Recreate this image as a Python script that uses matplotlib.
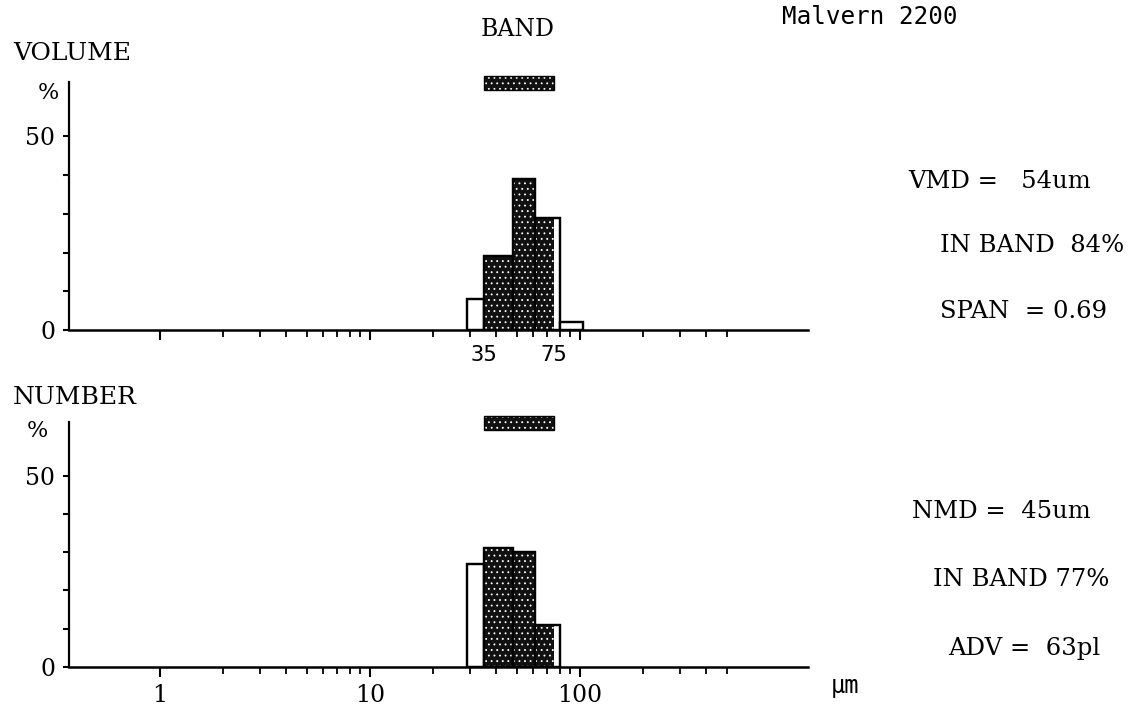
import matplotlib
matplotlib.use("Agg")
import matplotlib.pyplot as plt
from matplotlib.ticker import FixedLocator, NullFormatter

bin_edges = [29, 35, 48, 61, 80, 103]
volume_pct = [8, 19, 39, 29, 2]
number_pct = [27, 31, 30, 11]
band = (35, 75)

volume_stats = ["VMD =   54um", "IN BAND  84%", "SPAN  = 0.69"]
number_stats = ["NMD =  45um", "IN BAND 77%", "ADV =  63pl"]

serif = "DejaVu Serif"
plotter = "DejaVu Sans Mono"
W, H = 1136, 708


def fx(px):
    return px / W


def fy(py):
    return 1 - py / H


plt.rcParams["hatch.linewidth"] = 0.6
fig = plt.figure(figsize=(W / 100, H / 100), dpi=100)

ax_v = fig.add_axes([fx(69), fy(330), fx(808) - fx(69), (330 - 82) / H])
ax_n = fig.add_axes([fx(69), fy(667), fx(808) - fx(69), (667 - 422) / H])

# log minor ticks, the print-out only has them from 2 to 500
minor = [m * 10.0 ** e for e in (0, 1, 2) for m in range(2, 10)]
minor = [t for t in minor if t < 510]


def draw_panel(ax, pct):
    lefts = bin_edges[:-1]
    rights = bin_edges[1:]
    for lo, hi, h in zip(lefts, rights, pct):
        ax.bar(lo, h, width=hi - lo, align="edge", color="white",
               edgecolor="black", lw=1.6)
        dlo, dhi = max(lo, band[0]), min(hi, band[1])
        if dhi > dlo:
            ax.bar(dlo, h, width=dhi - dlo, align="edge", color="#111111",
                   edgecolor="white", hatch="...", lw=0)
        ax.bar(lo, h, width=hi - lo, align="edge", fill=False,
               edgecolor="black", lw=1.6)
    # band marker above the plot
    ax.bar(band[0], 3.6, bottom=62, width=band[1] - band[0], align="edge",
           color="#111111", edgecolor="white", hatch="...", lw=0, clip_on=False)
    ax.bar(band[0], 3.6, bottom=62, width=band[1] - band[0], align="edge",
           fill=False, edgecolor="black", lw=1.0, clip_on=False)

    ax.set_xscale("log")
    ax.set_xlim(0.369, 1218)
    ax.set_ylim(0, 64)
    for s in ("top", "right"):
        ax.spines[s].set_visible(False)
    ax.spines["left"].set_linewidth(1.6)
    ax.spines["bottom"].set_linewidth(1.8)

    ax.set_yticks([0, 10, 20, 30, 40, 50])
    ax.set_yticklabels(["0", "", "", "", "", "50"], fontfamily=serif, fontsize=17)
    ax.tick_params(axis="y", direction="out", length=4, width=1.5, pad=6)

    ax.xaxis.set_major_locator(FixedLocator([1, 10, 100]))
    ax.xaxis.set_minor_locator(FixedLocator(minor))
    ax.xaxis.set_minor_formatter(NullFormatter())
    ax.tick_params(axis="x", which="major", direction="out", length=7, width=1.5, pad=5)
    ax.tick_params(axis="x", which="minor", direction="out", length=5, width=1.3)


draw_panel(ax_v, volume_pct)
draw_panel(ax_n, number_pct)

# upper panel: only the band limits are labelled
ax_v.set_xticklabels(["", "", ""])
for b in band:
    ax_v.text(b, -0.1, str(b), transform=ax_v.get_xaxis_transform(),
              ha="center", va="center", fontfamily=plotter, fontsize=16)
ax_n.set_xticklabels(["1", "10", "100"], fontfamily=serif, fontsize=17)

fig.text(fx(845), fy(686), "\u03bcm", ha="center", va="center",
         fontfamily=plotter, fontsize=17)

fig.text(fx(518), fy(30), "BAND", ha="center", va="center", fontfamily=serif, fontsize=17)
fig.text(fx(870), fy(17), "Malvern 2200", ha="center", va="center",
         fontfamily=plotter, fontsize=17.5)
fig.text(fx(13), fy(54), "VOLUME", ha="left", va="center", fontfamily=serif, fontsize=18)
fig.text(fx(13), fy(398), "NUMBER", ha="left", va="center", fontfamily=serif, fontsize=18)
fig.text(fx(48), fy(93), "%", ha="center", va="center", fontfamily=serif, fontsize=16)
fig.text(fx(37), fy(431), "%", ha="center", va="center", fontfamily=serif, fontsize=16)

for txt, x, y in zip(volume_stats, [908, 940, 940], [182, 246, 312]):
    fig.text(fx(x), fy(y), txt, ha="left", va="center", fontfamily=serif, fontsize=17.5)
for txt, x, y in zip(number_stats, [912, 933, 948], [512, 580, 648]):
    fig.text(fx(x), fy(y), txt, ha="left", va="center", fontfamily=serif, fontsize=17.5)

fig.savefig("out.png", dpi=100, facecolor="white")
